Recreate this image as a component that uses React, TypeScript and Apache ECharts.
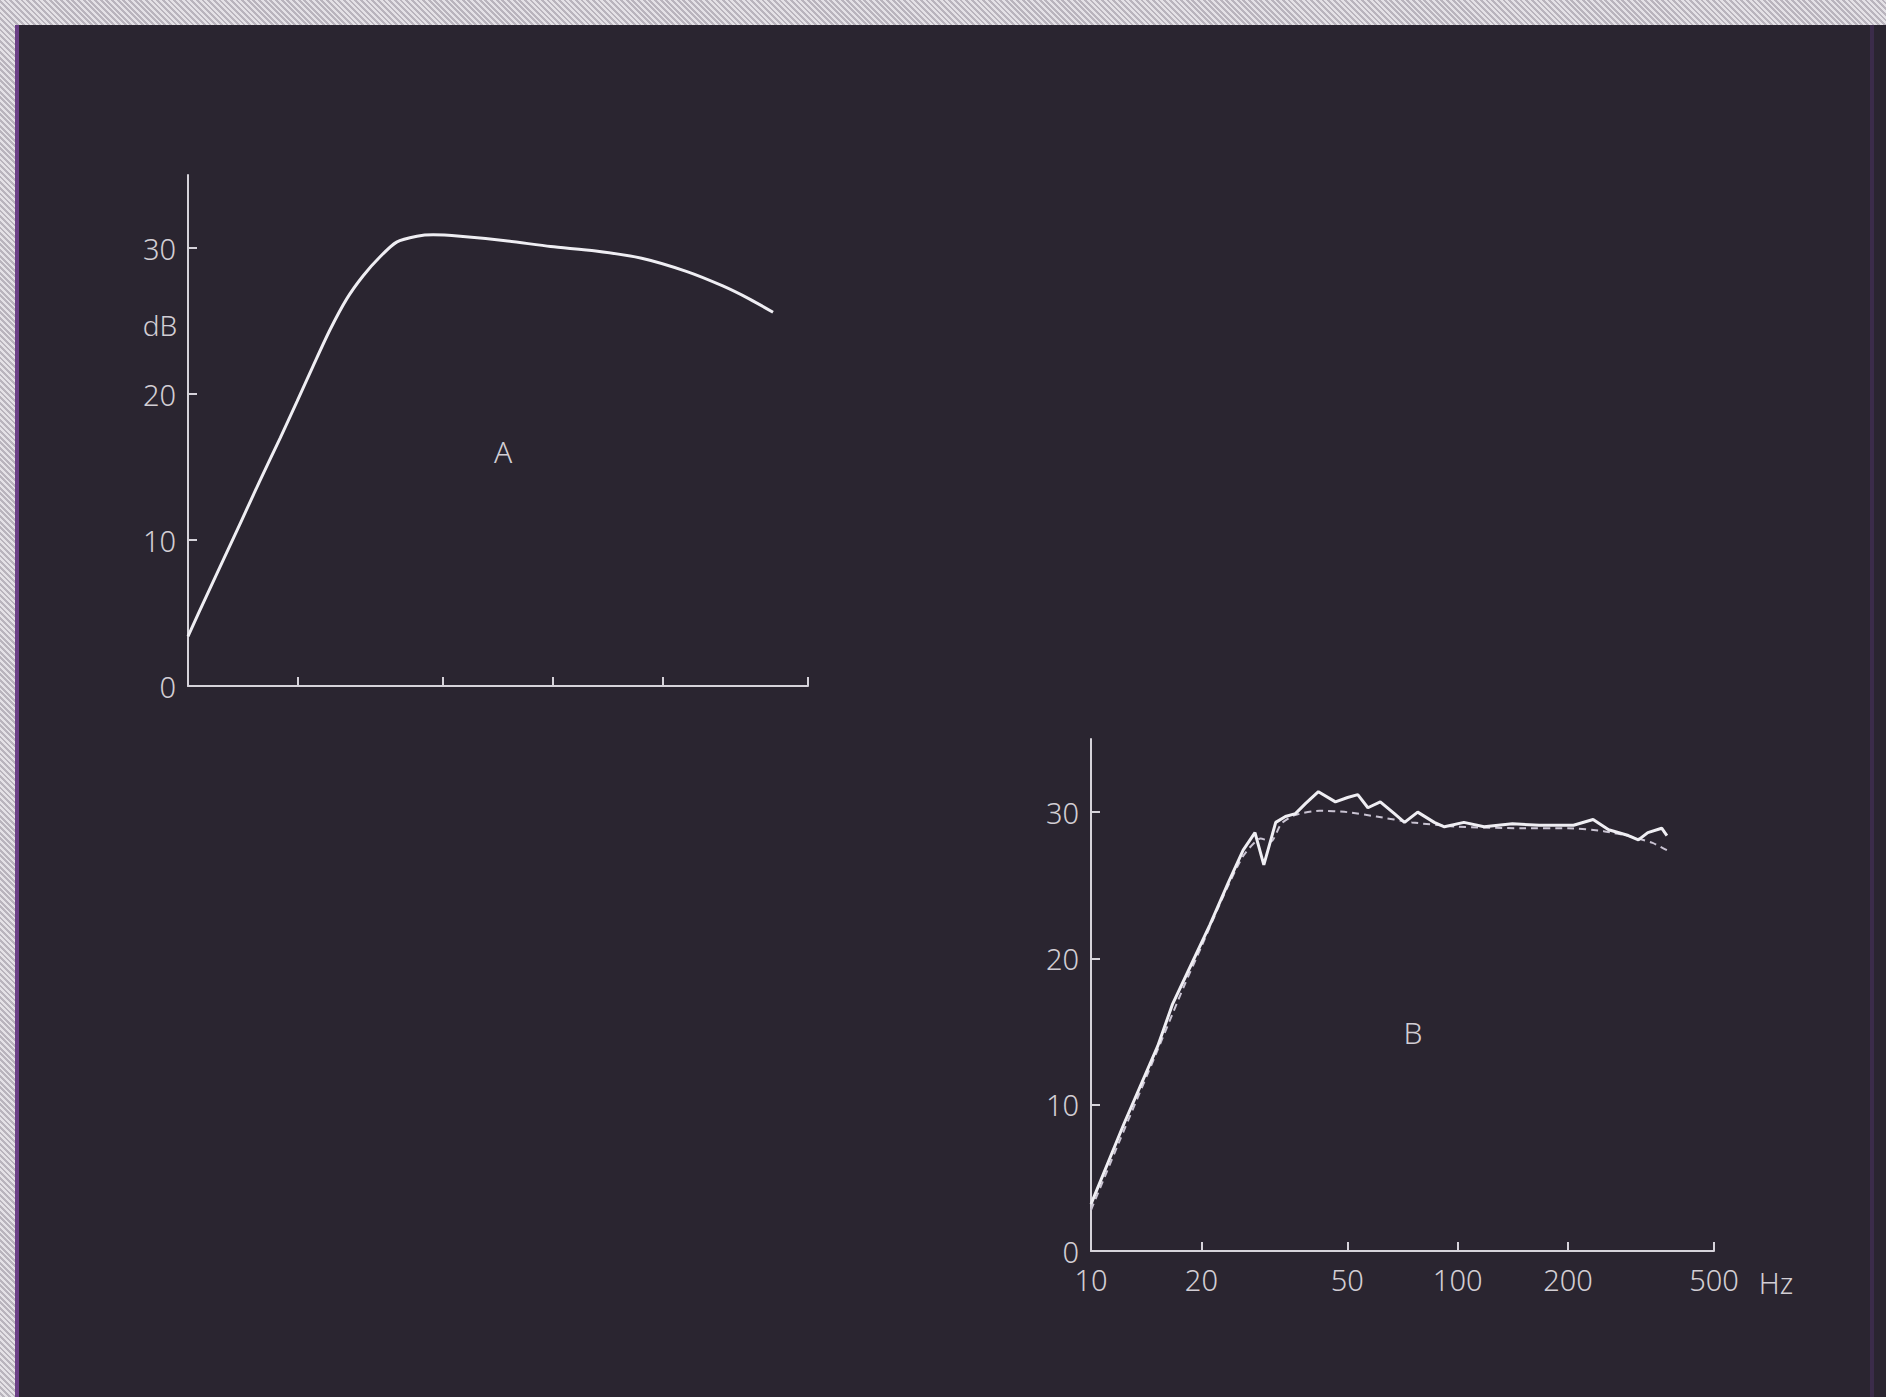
import React, { useEffect, useRef } from "react";
import * as echarts from "echarts";

// Frequency ticks (Hz) shared by both panels
const FREQ_TICKS = [10, 20, 50, 100, 200, 500];
const FREQ_LABELS_B = [10, 20, 50, 100, 200, 500];
const DB_TICKS = [10, 20, 30];
const DB_LABELS = [0, 10, 20, 30];

// Panel A curve
const curveAFreq = [10, 11.3, 12.8, 14.0, 15.7, 17.9, 19.9, 22.0, 24.5, 27.2, 30.2, 33.6, 37.3, 42.4, 47.0, 55.7, 74.1, 98.6, 131, 175, 232, 292, 346, 401];
const curveADb = [3.4, 6.3, 9.2, 11.3, 14.0, 17.0, 19.5, 21.9, 24.4, 26.5, 28.1, 29.4, 30.4, 30.8, 30.9, 30.8, 30.5, 30.1, 29.8, 29.3, 28.4, 27.4, 26.5, 25.6];

// Panel B solid (measured) curve
const curveBFreq = [10, 12.3, 15.2, 16.7, 18.7, 21.1, 23.7, 26.0, 28.0, 29.6, 31.9, 33.9, 36.1, 38.5, 41.7, 46.4, 50.1, 53.4, 56.9, 61.5, 67.2, 71.6, 77.8, 86.3, 92.0, 104, 118, 141, 167, 207, 234, 258, 292, 311, 330, 360, 372];
const curveBDb = [3.2, 8.7, 14.0, 16.9, 19.5, 22.3, 25.2, 27.4, 28.6, 26.4, 29.3, 29.7, 29.9, 30.6, 31.4, 30.7, 31.0, 31.2, 30.3, 30.7, 29.9, 29.3, 30.0, 29.3, 29.0, 29.3, 29.0, 29.2, 29.1, 29.1, 29.5, 28.8, 28.4, 28.1, 28.6, 28.9, 28.4];

// Panel B dashed curve
const curveB2Freq = [10, 12, 15, 18, 20, 23, 26, 29, 31, 33, 36, 42, 50, 60, 75, 100, 150, 200, 250, 300, 340, 372];
const curveB2Db = [2.8, 7.6, 13.4, 18.2, 20.8, 24.3, 27.0, 28.2, 28.0, 29.2, 29.8, 30.1, 30.0, 29.7, 29.3, 29.0, 28.9, 28.9, 28.7, 28.3, 27.9, 27.4];

const FONT = "'Noto Sans', 'DejaVu Sans', sans-serif";
const TEXT_COLOR = "#d2ced4";
const AXIS_COLOR = "#d6d3da";
const LINE_COLOR = "#efeef3";

const lg = (f: number) => Math.log10(f);
const pairs = (fs: number[], ds: number[]) => fs.map((f, i) => [lg(f), ds[i]]);

function xAxisFor(gridIndex: number, showLabels: boolean) {
  return {
    type: "value",
    gridIndex,
    min: 1,
    max: lg(500),
    axisLine: { show: true, lineStyle: { color: AXIS_COLOR, width: 2 } },
    axisTick: {
      show: true,
      inside: true,
      length: 9,
      customValues: FREQ_TICKS.map(lg),
      lineStyle: { color: AXIS_COLOR, width: 2 },
    },
    axisLabel: {
      show: showLabels,
      customValues: FREQ_LABELS_B.map(lg),
      formatter: (v: number) => String(Math.round(Math.pow(10, v))),
      color: TEXT_COLOR,
      fontSize: 29,
      fontFamily: FONT,
      fontWeight: 300,
      margin: 14,
    },
    splitLine: { show: false },
  };
}

function yAxisFor(gridIndex: number) {
  return {
    type: "value",
    gridIndex,
    min: 0,
    max: 35,
    axisLine: { show: true, lineStyle: { color: AXIS_COLOR, width: 2 } },
    axisTick: {
      show: true,
      inside: true,
      length: 9,
      customValues: DB_TICKS,
      lineStyle: { color: AXIS_COLOR, width: 2 },
    },
    axisLabel: {
      customValues: DB_LABELS,
      color: TEXT_COLOR,
      fontSize: 29,
      fontFamily: FONT,
      fontWeight: 300,
      margin: 12,
    },
    splitLine: { show: false },
  };
}

function textEl(text: string, x: number, y: number, size: number) {
  return {
    type: "text",
    x,
    y,
    style: {
      text,
      fill: TEXT_COLOR,
      font: `300 ${size}px ${FONT}`,
      align: "center",
      verticalAlign: "middle",
    },
    silent: true,
  };
}

export default function App() {
  const ref = useRef<HTMLDivElement>(null);

  useEffect(() => {
    if (!ref.current) return;
    const chart = echarts.init(ref.current, undefined, { renderer: "svg" });
    chart.setOption({
      animation: false,
      backgroundColor: "transparent",
      grid: [
        { left: 188, top: 175, width: 620, height: 511 },
        { left: 1091, top: 739, width: 623, height: 512 },
      ],
      xAxis: [xAxisFor(0, false), xAxisFor(1, true)],
      yAxis: [yAxisFor(0), yAxisFor(1)],
      series: [
        {
          type: "line",
          xAxisIndex: 0,
          yAxisIndex: 0,
          data: pairs(curveAFreq, curveADb),
          symbol: "none",
          smooth: 0.25,
          lineStyle: { color: LINE_COLOR, width: 3 },
          silent: true,
        },
        {
          type: "line",
          xAxisIndex: 1,
          yAxisIndex: 1,
          data: pairs(curveB2Freq, curveB2Db),
          symbol: "none",
          smooth: 0.2,
          lineStyle: { color: "#c9c3d2", width: 2, type: [7, 5] },
          silent: true,
        },
        {
          type: "line",
          xAxisIndex: 1,
          yAxisIndex: 1,
          data: pairs(curveBFreq, curveBDb),
          symbol: "none",
          lineStyle: { color: LINE_COLOR, width: 3 },
          silent: true,
        },
      ],
      graphic: [
        textEl("dB", 160, 325, 28),
        textEl("A", 503, 451, 30),
        textEl("B", 1413, 1032, 30),
        textEl("Hz", 1776, 1282, 29),
      ],
    });
    return () => chart.dispose();
  }, []);

  return (
    <div
      style={{
        position: "absolute",
        left: 0,
        top: 0,
        width: 1886,
        height: 1397,
        overflow: "hidden",
        background:
          "repeating-linear-gradient(45deg, #e4e1e6 0px, #e4e1e6 2px, #b9b4bd 2px, #b9b4bd 4px)",
      }}
    >
      <div
        style={{
          position: "absolute",
          left: 15,
          top: 25,
          right: 0,
          bottom: 0,
          background: "#2a2530",
          borderLeft: "4px solid #6b3f86",
        }}
      />
      <div
        style={{
          position: "absolute",
          left: 1870,
          top: 25,
          width: 4,
          bottom: 0,
          background: "#3b2c4a",
        }}
      />
      <div
        ref={ref}
        style={{ position: "absolute", left: 0, top: 0, width: 1886, height: 1397 }}
      />
    </div>
  );
}
